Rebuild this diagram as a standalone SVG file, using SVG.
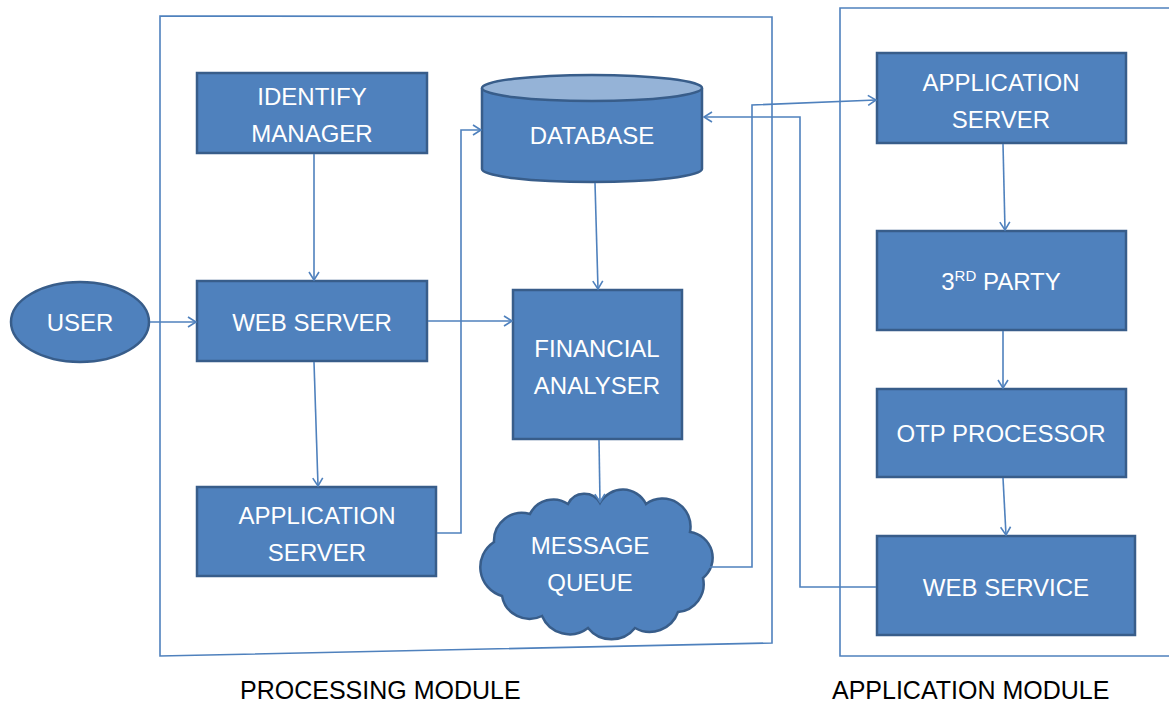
<svg xmlns="http://www.w3.org/2000/svg" width="1169" height="707" viewBox="0 0 1169 707">
<defs>
<marker id="arr" markerUnits="userSpaceOnUse" markerWidth="12" markerHeight="12" refX="9" refY="6" orient="auto">
<path d="M1,1 L9,6 L1,11" fill="none" stroke="#4F81BD" stroke-width="1.6"/>
</marker>
<style>
.n{fill:#4F81BD;stroke:#385D8A;stroke-width:2.5}
.t{fill:#FFFFFF;font-family:"Liberation Sans",Arial,sans-serif;font-size:24px;text-anchor:middle}
.c{fill:none;stroke:#4F81BD;stroke-width:1.6}
.frame{fill:none;stroke:#4F81BD;stroke-width:1.6}
.lbl{fill:#000000;font-family:"Liberation Sans",Arial,sans-serif;font-size:25px}
</style>
</defs>
<rect width="1169" height="707" fill="#FFFFFF"/>
<g id="processing-module">
<polygon class="frame" points="160,16 772,17 772,643 160,656"/>
<text class="lbl" x="240" y="699">PROCESSING MODULE</text>
</g>
<g id="application-module">
<polyline class="frame" points="1170,8 840,8 840,656 1170,656"/>
<text class="lbl" x="832" y="699">APPLICATION MODULE</text>
</g>
<g id="user">
<ellipse class="n" cx="80" cy="322" rx="69" ry="40"/>
<text class="t" x="80" y="331">USER</text>
</g>
<g id="identify-manager">
<rect class="n" x="197" y="73" width="230" height="80"/>
<text class="t" x="312" y="105">IDENTIFY</text>
<text class="t" x="312" y="142">MANAGER</text>
</g>
<g id="web-server">
<rect class="n" x="197" y="281" width="230" height="80"/>
<text class="t" x="312" y="331">WEB SERVER</text>
</g>
<g id="application-server-left">
<rect class="n" x="197" y="487" width="239" height="89"/>
<text class="t" x="317" y="524">APPLICATION</text>
<text class="t" x="317" y="561">SERVER</text>
</g>
<g id="database">
<path class="n" d="M482,88 L482,169 A110,13 0 0 0 702,169 L702,88"/>
<ellipse cx="592" cy="88" rx="110" ry="13" fill="#95B3D7" stroke="#385D8A" stroke-width="2.5"/>
<text class="t" x="592" y="144">DATABASE</text>
</g>
<g id="financial-analyser">
<rect class="n" x="513" y="290" width="169" height="149"/>
<text class="t" x="597" y="357">FINANCIAL</text>
<text class="t" x="597" y="394">ANALYSER</text>
</g>
<g id="message-queue">
<path class="n" d="M494,542 A28,28 0 0 1 530,514 A26,26 0 0 1 568,504 A18,18 0 0 1 600,503 A26,26 0 0 1 646,504 A28,28 0 0 1 690,532 A26,26 0 0 1 703,578 A28,28 0 0 1 678,612 A30,30 0 0 1 635,628 A30,30 0 0 1 588,628 A30,30 0 0 1 542,616 A28,28 0 0 1 502,596 A30,30 0 0 1 494,542 Z"/>
<text class="t" x="590" y="554">MESSAGE</text>
<text class="t" x="590" y="591">QUEUE</text>
</g>
<g id="application-server-right">
<rect class="n" x="877" y="53" width="249" height="90"/>
<text class="t" x="1001" y="91">APPLICATION</text>
<text class="t" x="1001" y="128">SERVER</text>
</g>
<g id="third-party">
<rect class="n" x="877" y="231" width="249" height="99"/>
<text class="t" x="1001" y="290">3<tspan dy="-9" font-size="15">RD</tspan><tspan dy="9"> PARTY</tspan></text>
</g>
<g id="otp-processor">
<rect class="n" x="877" y="389" width="249" height="88"/>
<text class="t" x="1001" y="442">OTP PROCESSOR</text>
</g>
<g id="web-service">
<rect class="n" x="877" y="536" width="258" height="99"/>
<text class="t" x="1006" y="596">WEB SERVICE</text>
</g>
<g id="connectors">
<line class="c" x1="150" y1="322" x2="196" y2="322" marker-end="url(#arr)"/>
<line class="c" x1="314" y1="154" x2="314" y2="280" marker-end="url(#arr)"/>
<line class="c" x1="314" y1="362" x2="318" y2="486" marker-end="url(#arr)"/>
<line class="c" x1="428" y1="321" x2="512" y2="321" marker-end="url(#arr)"/>
<polyline class="c" points="437,533 461,533 461,130 481,130" marker-end="url(#arr)"/>
<line class="c" x1="595" y1="183" x2="598" y2="289" marker-end="url(#arr)"/>
<line class="c" x1="599" y1="440" x2="600" y2="502" marker-end="url(#arr)"/>
<polyline class="c" points="704,567 752,567 752,105 876,100" marker-end="url(#arr)"/>
<polyline class="c" points="876,587 800,587 800,117 704,117" marker-end="url(#arr)"/>
<line class="c" x1="1003" y1="144" x2="1005" y2="230" marker-end="url(#arr)"/>
<line class="c" x1="1003" y1="331" x2="1003" y2="388" marker-end="url(#arr)"/>
<line class="c" x1="1003" y1="478" x2="1006" y2="535" marker-end="url(#arr)"/>
</g>
</svg>
